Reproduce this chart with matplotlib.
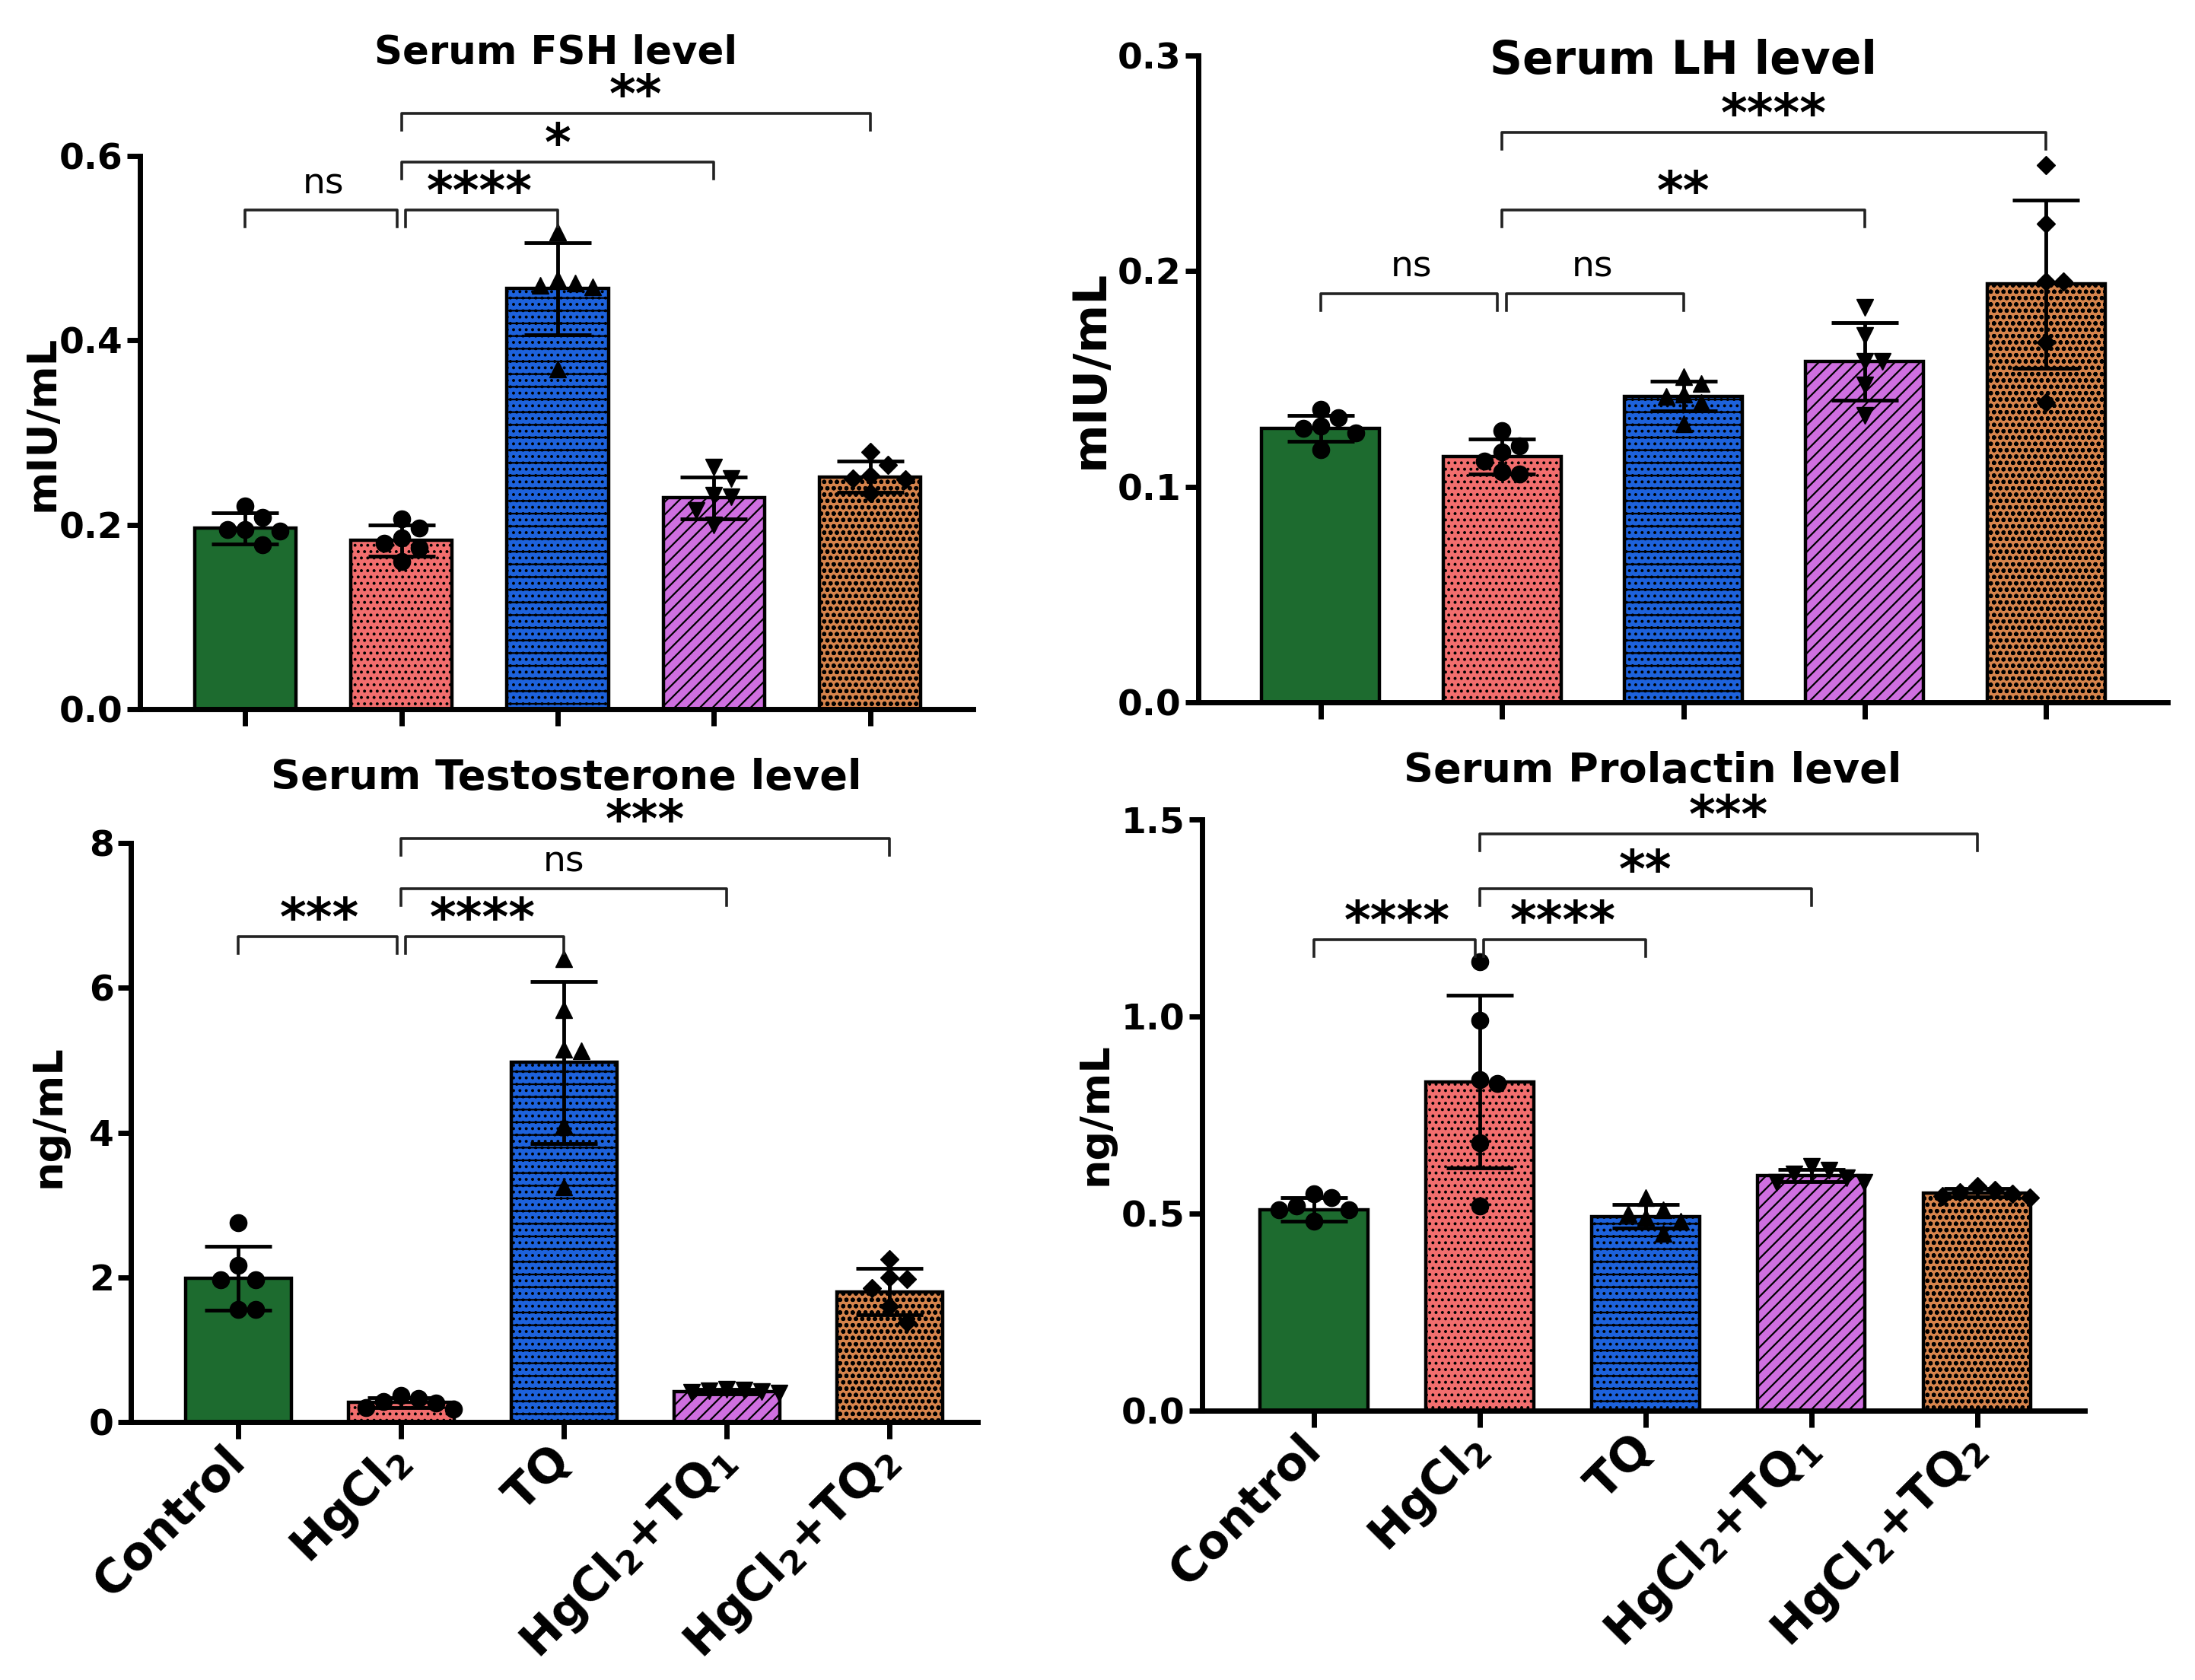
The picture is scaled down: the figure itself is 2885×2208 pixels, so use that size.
import numpy as np
import matplotlib
matplotlib.use('Agg')
import matplotlib.pyplot as plt
from matplotlib import transforms

plt.rcParams['font.family'] = ['DejaVu Sans']
plt.rcParams['font.weight'] = 'bold'
plt.rcParams['mathtext.default'] = 'bf'
plt.rcParams['hatch.linewidth'] = 1.6

# groups and styling
groups = ['Control', 'HgCl$_2$', 'TQ', 'HgCl$_2$+TQ$_1$', 'HgCl$_2$+TQ$_2$']
bar_colors = ['#1d6b2f', '#f26e6e', '#1d62dc', '#cf6fe0', '#d6844c']
hatches = ['', '..', '-..', '//', 'oo']
markers = ['o', 'o', '^', 'v', 'D']

# Serum FSH (mIU/mL)
fsh_mean = [0.196, 0.183, 0.456, 0.229, 0.252]
fsh_sd = [0.017, 0.017, 0.050, 0.023, 0.017]
fsh_points = [
    [0.208, 0.220, 0.195, 0.195, 0.193, 0.178],
    [0.206, 0.196, 0.186, 0.180, 0.175, 0.160],
    [0.517, 0.466, 0.462, 0.460, 0.458, 0.369],
    [0.262, 0.250, 0.232, 0.230, 0.215, 0.200],
    [0.279, 0.265, 0.253, 0.250, 0.249, 0.234],
]
fsh_ticks = [0.0, 0.2, 0.4, 0.6]
fsh_ticklabels = ['0.0', '0.2', '0.4', '0.6']
fsh_pairs = [(0, 1), (1, 2), (1, 3), (1, 4)]
fsh_sig = ['ns', '****', '*', '**']
fsh_bracket_y = [0.541, 0.541, 0.593, 0.646]

# Serum LH (mIU/mL)
lh_mean = [0.127, 0.114, 0.142, 0.158, 0.194]
lh_sd = [0.006, 0.008, 0.007, 0.018, 0.039]
lh_points = [
    [0.136, 0.132, 0.128, 0.127, 0.125, 0.117],
    [0.126, 0.119, 0.116, 0.112, 0.107, 0.106],
    [0.151, 0.148, 0.143, 0.142, 0.139, 0.129],
    [0.183, 0.170, 0.158, 0.158, 0.147, 0.133],
    [0.249, 0.222, 0.195, 0.195, 0.167, 0.139],
]
lh_ticks = [0.0, 0.1, 0.2, 0.3]
lh_ticklabels = ['0.0', '0.1', '0.2', '0.3']
lh_pairs = [(0, 1), (1, 2), (1, 3), (1, 4)]
lh_sig = ['ns', 'ns', '**', '****']
lh_bracket_y = [0.1896, 0.1896, 0.2284, 0.2644]

# Serum Testosterone (ng/mL)
t_mean = [1.99, 0.27, 4.97, 0.42, 1.80]
t_sd = [0.44, 0.07, 1.12, 0.03, 0.32]
t_points = [
    [2.75, 2.17, 1.97, 1.97, 1.56, 1.56],
    [0.37, 0.33, 0.28, 0.26, 0.20, 0.18],
    [6.40, 5.70, 5.15, 5.13, 4.10, 3.25],
    [0.45, 0.44, 0.43, 0.42, 0.41, 0.40],
    [2.25, 2.00, 1.98, 1.85, 1.60, 1.38],
]
t_ticks = [0, 2, 4, 6, 8]
t_ticklabels = ['0', '2', '4', '6', '8']
t_pairs = [(0, 1), (1, 2), (1, 3), (1, 4)]
t_sig = ['***', '****', 'ns', '***']
t_bracket_y = [6.71, 6.71, 7.37, 8.06]

# Serum Prolactin (ng/mL)
p_mean = [0.51, 0.835, 0.493, 0.597, 0.553]
p_sd = [0.03, 0.22, 0.03, 0.015, 0.01]
p_points = [
    [0.55, 0.54, 0.52, 0.51, 0.51, 0.48],
    [1.14, 0.99, 0.84, 0.83, 0.68, 0.52],
    [0.54, 0.51, 0.50, 0.49, 0.48, 0.45],
    [0.62, 0.61, 0.60, 0.59, 0.58, 0.58],
    [0.57, 0.56, 0.555, 0.55, 0.545, 0.54],
]
p_ticks = [0.0, 0.5, 1.0, 1.5]
p_ticklabels = ['0.0', '0.5', '1.0', '1.5']
p_pairs = [(0, 1), (1, 2), (1, 3), (1, 4)]
p_sig = ['****', '****', '**', '***']
p_bracket_y = [1.195, 1.195, 1.324, 1.463]

W, H = 2885, 2208
fig = plt.figure(figsize=(W / 100, H / 100), dpi=100)


def px_text(x, y, s, **kw):
    # place figure text using pixel coords measured from the top-left
    fig.text(x / W, 1 - y / H, s, **kw)


def swarm_offsets(ax, x0, vals, size_px):
    # Prism-like scatter: push overlapping points sideways
    to_px = ax.transData.transform
    px_per_x = to_px((1, 0))[0] - to_px((0, 0))[0]
    placed = []
    offs = np.zeros(len(vals))
    for i in np.argsort(vals)[::-1]:
        y_px = to_px((x0, vals[i]))[1]
        for k in [0, 1, -1, 2, -2, 3, -3]:
            dx = k * size_px
            if all(np.hypot(dx - qx, y_px - qy) >= size_px * 0.95 for qx, qy in placed):
                break
        placed.append((dx, y_px))
        offs[i] = dx / px_per_x
    return offs


def draw_panel(rect, xlim, means, sds, points, ticks, ticklabels, pairs, sig, bracket_y,
               show_xlabels):
    ax = fig.add_axes(rect)
    ax.set_xlim(*xlim)
    ax.set_ylim(ticks[0], ticks[-1])
    x = np.arange(len(groups))

    bars = ax.bar(x, means, width=0.65, color=bar_colors, edgecolor='black',
                  linewidth=3.2, zorder=2)
    for b, h in zip(bars, hatches):
        b.set_hatch(h)

    for i, vals in enumerate(points):
        offs = swarm_offsets(ax, i, vals, 23)
        ms = 12 if markers[i] == 'D' else 16
        ax.plot(i + offs, vals, ls='none', marker=markers[i], ms=ms,
                color='black', zorder=3, clip_on=False)

    ax.errorbar(x, means, yerr=sds, fmt='none', ecolor='black', elinewidth=3.5,
                capsize=32, capthick=3.5, zorder=4)

    for s in ['top', 'right']:
        ax.spines[s].set_visible(False)
    for s in ['left', 'bottom']:
        ax.spines[s].set_linewidth(5)

    ax.set_yticks(ticks)
    ax.set_yticklabels(ticklabels)
    ax.tick_params(axis='y', length=12, width=5, labelsize=34, pad=4)
    ax.set_xticks(x)
    if show_xlabels:
        ax.set_xticklabels(groups, rotation=45, ha='right', va='center',
                           rotation_mode='anchor')
    else:
        ax.set_xticklabels([])
    ax.tick_params(axis='x', length=16, width=5, labelsize=44, pad=14)

    # significance brackets
    unit_px = ax.transData.transform((0, 1))[1] - ax.transData.transform((0, 0))[1]
    leg = 22 / unit_px
    for (a, b), s, y in zip(pairs, sig, bracket_y):
        xa, xb = a, b
        if (a, b) == (0, 1):
            xb = b - 0.025
        if (a, b) == (1, 2):
            xa = a + 0.025
        ax.plot([xa, xa, xb, xb], [y - leg, y, y, y - leg], color='#222222',
                lw=2.6, clip_on=False, zorder=5)
        if s == 'ns':
            tr = transforms.offset_copy(ax.transData, fig=fig, y=16, units='points')
            ax.text((a + b) / 2, y, s, transform=tr, ha='center', va='baseline',
                    fontsize=34, fontweight='normal')
        else:
            tr = transforms.offset_copy(ax.transData, fig=fig, y=1.5, units='points')
            ax.text((a + b) / 2, y, s, transform=tr, ha='center', va='baseline',
                    fontsize=48, fontweight='bold')
    return ax


draw_panel([0.0638, 0.5779, 0.3796, 0.3293], (-0.673, 4.66), fsh_mean, fsh_sd,
           fsh_points, fsh_ticks, fsh_ticklabels, fsh_pairs, fsh_sig, fsh_bracket_y, False)
draw_panel([0.5459, 0.5820, 0.4416, 0.3850], (-0.675, 4.67), lh_mean, lh_sd,
           lh_points, lh_ticks, lh_ticklabels, lh_pairs, lh_sig, lh_bracket_y, False)
draw_panel([0.0596, 0.1535, 0.3858, 0.3447], (-0.66, 4.54), t_mean, t_sd,
           t_points, t_ticks, t_ticklabels, t_pairs, t_sig, t_bracket_y, True)
draw_panel([0.5477, 0.1603, 0.4021, 0.3519], (-0.674, 4.65), p_mean, p_sd,
           p_points, p_ticks, p_ticklabels, p_pairs, p_sig, p_bracket_y, True)

# titles
px_text(731, 83, 'Serum FSH level', ha='center', va='baseline', fontsize=37)
px_text(2212, 97, 'Serum LH level', ha='center', va='baseline', fontsize=43)
px_text(744, 1037, 'Serum Testosterone level', ha='center', va='baseline', fontsize=39)
px_text(2172, 1028, 'Serum Prolactin level', ha='center', va='baseline', fontsize=39)

# y axis labels
px_text(56, 556, 'mIU/mL', rotation=90, ha='center', va='center', fontsize=39)
px_text(1433, 485, 'mIU/mL', rotation=90, ha='center', va='center', fontsize=44)
px_text(64, 1467, 'ng/mL', rotation=90, ha='center', va='center', fontsize=39)
px_text(1440, 1464, 'ng/mL', rotation=90, ha='center', va='center', fontsize=39)

fig.savefig('out.png', dpi=100, facecolor='white')
